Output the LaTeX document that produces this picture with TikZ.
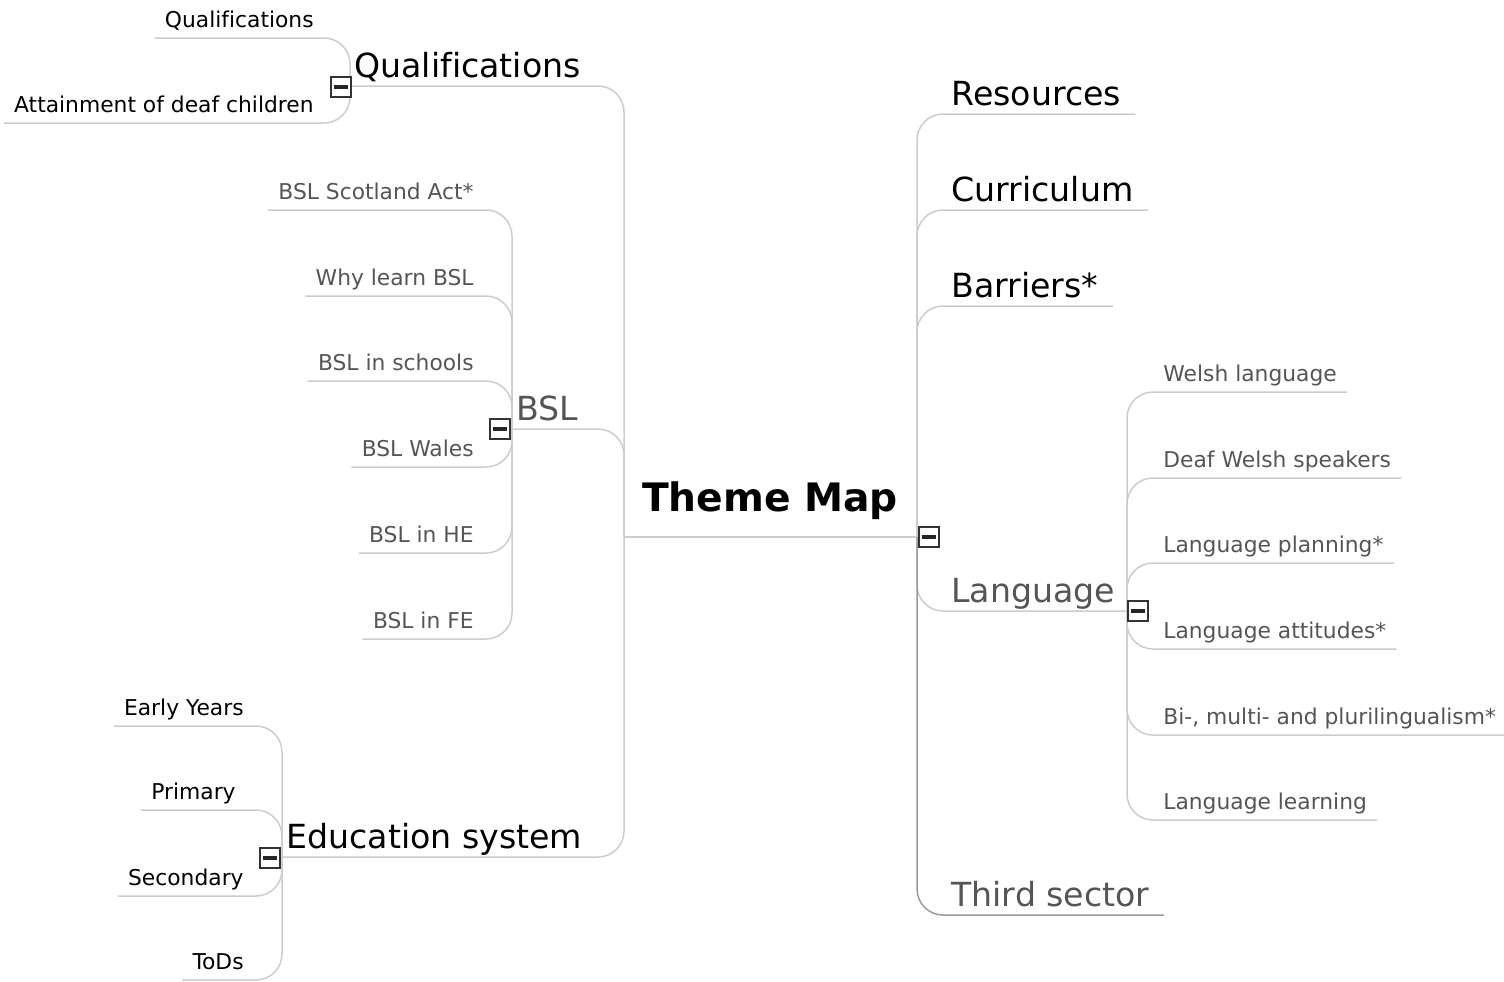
\documentclass[tikz,border=0pt]{standalone}
\usepackage{fontspec}
\setmainfont{DejaVu Sans}[Ligatures=NoCommon]

\definecolor{linegray}{HTML}{CCCCCC}
\definecolor{darkline}{HTML}{9A9A9A}
\definecolor{textgray}{HTML}{555555}

\tikzset{
  branch/.style={draw=linegray, line width=0.75pt, rounded corners=13pt},
  topic/.style={inner xsep=7pt, inner ysep=0pt, font=\fontsize{16.6}{19}\selectfont,
    text height=12pt, text depth=4pt},
  subtopic/.style={inner xsep=5pt, inner ysep=0pt, font=\fontsize{10.9}{13}\selectfont,
    text height=8pt, text depth=5pt},
  toggle/.style={draw=black!80, fill=white, minimum size=9.8pt, inner sep=0pt, line width=1pt,
    path picture={\draw[line width=1.7pt, black!85]
      ([xshift=1.6pt]path picture bounding box.west) -- ([xshift=-1.6pt]path picture bounding box.east);}}
}

\begin{document}
\begin{tikzpicture}[x=0.5pt, y=-0.5pt]
      \useasboundingbox (0,0) rectangle (1504,981);

      % centre
      \node[anchor=base, font=\fontsize{19.6}{23}\selectfont\bfseries] (root) at (770,511) {Theme Map};
      \coordinate (lroot) at (624,537);
      \coordinate (rroot) at (917,537);
      \draw[branch] (lroot) -- (rroot);

      % junctions of the sub branches
      \coordinate (qualj) at (350,86);
      \coordinate (bslj) at (512,429);
      \coordinate (eduj) at (282,857);
      \coordinate (langj) at (1127,611);

      % left topics
      \node[topic, inner xsep=2pt, anchor=south west] (qual) at (qualj) {Qualifications};
      \node[topic, inner xsep=2pt, anchor=south west, text=textgray] (bsl) at (bslj) {BSL};
      \node[topic, inner xsep=2pt, anchor=south west] (edu) at (eduj) {Education system};
      \draw[branch] (lroot) |- (qualj);
      \draw[branch] (lroot) |- (bslj);
      \draw[branch] (lroot) |- (eduj);

      % right topics
      \node[topic, anchor=south west] (res) at (937,114) {Resources};
      \node[topic, anchor=south west] (curr) at (937,210) {Curriculum};
      \node[topic, anchor=south west] (barr) at (937,306) {Barriers*};
      \node[topic, anchor=south west, text=textgray] (lang) at (937,611) {Language};
      \node[topic, anchor=south west, text=textgray] (third) at (937,915) {Third sector};
      \foreach \n in {res, curr, barr} {
        \draw[branch] (rroot) |- (\n.south east);
      }
      \draw[branch] (rroot) |- (langj);
      \draw[branch, draw=darkline] (rroot) |- (third.south east);

      % qualifications
      \node[subtopic, anchor=south east] (qualsub) at (324,38) {Qualifications};
      \node[subtopic, anchor=south east] (attain) at (324,123) {Attainment of deaf children};

      % bsl
      \begin{scope}[every node/.style={subtopic, anchor=south east, text=textgray}]
        \node (scotact) at (484,210) {BSL Scotland Act*};
        \node (whybsl) at (484,296) {Why learn BSL};
        \node (bslschools) at (484,381) {BSL in schools};
        \node (bslwales) at (484,467) {BSL Wales};
        \node (bslhe) at (484,553) {BSL in HE};
        \node (bslfe) at (484,639) {BSL in FE};
      \end{scope}

      % education
      \node[subtopic, anchor=south east] (early) at (254,726) {Early Years};
      \node[subtopic, anchor=south east] (primary) at (246,810) {Primary};
      \node[subtopic, anchor=south east] (secondary) at (254,896) {Secondary};
      \node[subtopic, anchor=south east] (tods) at (254,980) {ToDs};

      % language
      \begin{scope}[every node/.style={subtopic, anchor=south west, text=textgray}]
        \node (welsh) at (1153,392) {Welsh language};
        \node (deafwelsh) at (1153,478) {Deaf Welsh speakers};
        \node (langplan) at (1153,563) {Language planning*};
        \node (langatt) at (1153,649) {Language attitudes*};
        \node (pluri) at (1153,735) {Bi-, multi- and plurilingualism*};
        \node (langlearn) at (1153,820) {Language learning};
      \end{scope}

      \foreach \n in {qualsub, attain} {
        \draw[branch] (qualj) |- (\n.south west);
      }
      \foreach \n in {scotact, whybsl, bslschools, bslwales, bslhe, bslfe} {
        \draw[branch] (bslj) |- (\n.south west);
      }
      \foreach \n in {early, primary, secondary, tods} {
        \draw[branch] (eduj) |- (\n.south west);
      }
      \foreach \n in {welsh, deafwelsh, langplan, langatt, pluri, langlearn} {
        \draw[branch] (langj) |- (\n.south east);
      }

      % collapse boxes
      \node[toggle] (qtoggle) at (341,87) {};
      \node[toggle] (btoggle) at (500,429) {};
      \node[toggle] (etoggle) at (270,858) {};
      \node[toggle] (rtoggle) at (929,537) {};
      \node[toggle] (ltoggle) at (1138,611) {};
    \end{tikzpicture}
\end{document}
